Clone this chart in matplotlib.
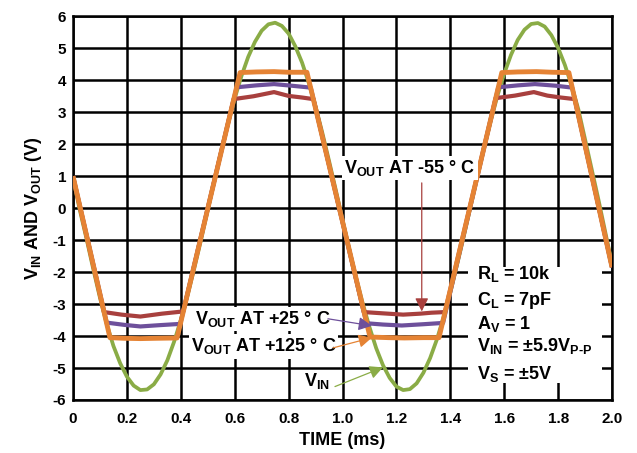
import matplotlib
matplotlib.use("Agg")
import matplotlib.pyplot as plt
import numpy as np
from matplotlib.patches import Rectangle

plt.rcParams['font.family'] = ['Liberation Sans', 'DejaVu Sans']
plt.rcParams['font.weight'] = 'bold'
plt.rcParams['mathtext.fontset'] = 'custom'
plt.rcParams['mathtext.rm'] = 'Liberation Sans:bold'
plt.rcParams['mathtext.bf'] = 'Liberation Sans:bold'
plt.rcParams['mathtext.it'] = 'Liberation Sans:bold'
plt.rcParams['axes.unicode_minus'] = False

# input sine, read every 0.025 ms
VIN_T = np.linspace(0, 2.0, 81)
VIN_V = [0.95, -0.05, -0.95, -1.90, -2.80, -3.62, -4.31, -4.85, -5.27, -5.55,
         -5.69, -5.67, -5.51, -5.20, -4.76, -4.18, -3.50, -2.73, -1.88, -0.99,
         -0.06, 0.87, 1.77, 2.63, 3.43, 4.13, 4.73, 5.20, 5.55, 5.75,
         5.80, 5.70, 5.46, 5.06, 4.55, 3.91, 3.18, 2.36, 1.48, 0.57,
         -0.36, -1.28, -2.16, -2.98, -3.72, -4.38, -4.91, -5.31, -5.58, -5.69,
         -5.66, -5.48, -5.15, -4.69, -4.11, -3.41, -2.63, -1.77, -0.88, 0.05,
         0.98, 1.88, 2.73, 3.52, 4.21, 4.79, 5.26, 5.58, 5.76, 5.79,
         5.68, 5.41, 5.01, 4.48, 3.83, 3.09, 2.15, 1.20, 0.25, -0.75,
         -1.75]

# output at +125 C
T125 = [0, 0.137, 0.19, 0.25, 0.31, 0.386, 0.62, 0.68, 0.746, 0.80, 0.868,
        1.102, 1.17, 1.23, 1.30, 1.358, 1.591, 1.65, 1.72, 1.78, 1.84, 2.0]
V125 = [1.0, -4.05, -4.07, -4.08, -4.07, -4.06, 4.24, 4.26, 4.27, 4.25, 4.25,
        -4.03, -4.05, -4.06, -4.05, -4.05, 4.24, 4.26, 4.27, 4.25, 4.24, -1.85]

# output at +25 C
T25 = [0, 0.125, 0.19, 0.25, 0.32, 0.398, 0.607, 0.68, 0.746, 0.81, 0.882,
       1.089, 1.15, 1.22, 1.30, 1.373, 1.578, 1.65, 1.714, 1.79, 1.852, 2.0]
V25 = [1.0, -3.58, -3.65, -3.70, -3.66, -3.62, 3.78, 3.84, 3.88, 3.83, 3.77,
       -3.60, -3.64, -3.67, -3.63, -3.59, 3.78, 3.84, 3.88, 3.83, 3.77, -1.85]

# output at -55 C
T55 = [0, 0.115, 0.18, 0.25, 0.33, 0.409, 0.596, 0.67, 0.746, 0.80, 0.85, 0.892,
       1.079, 1.15, 1.225, 1.288, 1.33, 1.380, 1.568, 1.64, 1.71, 1.76, 1.81,
       1.862, 2.0]
V55 = [1.0, -3.25, -3.33, -3.39, -3.30, -3.23, 3.41, 3.50, 3.63, 3.51, 3.46, 3.41,
       -3.25, -3.29, -3.33, -3.30, -3.27, -3.25, 3.44, 3.52, 3.63, 3.52, 3.46,
       3.41, -1.85]

XTICKS = [0, 0.2, 0.4, 0.6, 0.8, 1.0, 1.2, 1.4, 1.6, 1.8, 2.0]
XLABELS = ['0', '0.2', '0.4', '0.6', '0.8', '1.0', '1.2', '1.4', '1.6', '1.8', '2.0']
YTICKS = list(range(-6, 7))

GREEN = '#8aac46'
ORANGE = '#e58334'
PURPLE = '#6e509b'
RED = '#a8403e'

fig = plt.figure(figsize=(6.37, 4.53), dpi=100)
ax = fig.add_axes([0.1146, 0.117, 0.8462, 0.847])

ax.plot(VIN_T, VIN_V, color=GREEN, lw=2.7, zorder=4, solid_capstyle='butt')
ax.plot(T55, V55, color=RED, lw=3.0, zorder=4, solid_capstyle='butt')
ax.plot(T25, V25, color=PURPLE, lw=3.0, zorder=4, solid_capstyle='butt')
ax.plot(T125, V125, color=ORANGE, lw=3.5, zorder=4, solid_capstyle='butt')

ax.set_xlim(0, 2.0)
ax.set_ylim(-6, 6)
ax.set_xticks(XTICKS)
ax.set_xticklabels(XLABELS)
ax.set_yticks(YTICKS)
ax.tick_params(length=0, labelsize=11)
ax.tick_params(axis='x', pad=9)
ax.tick_params(axis='y', pad=5)
ax.set_axisbelow(True)
ax.grid(True, color='black', lw=1.8)
for s in ax.spines.values():
    s.set_linewidth(1.8)

ax.set_xlabel('TIME (ms)', fontsize=13, fontweight='bold', labelpad=4)
ax.set_ylabel(r'V$_{\rm IN}$ AND V$_{\rm OUT}$ (V)', fontsize=13,
              fontweight='bold', labelpad=6)

# conditions block
ax.add_patch(Rectangle((0.733, 0.044), 0.248, 0.303, transform=ax.transAxes,
                       facecolor='white', edgecolor='none', zorder=3))
cond = [(r'R$_{\rm L}$ = 10k', -2.22),
        (r'C$_{\rm L}$ = 7pF', -3.02),
        (r'A$_{\rm V}$ = 1', -3.77),
        (r'V$_{\rm IN}$ = ±5.9V$_{\rm P\text{-}P}$', -4.46),
        (r'V$_{\rm S}$ = ±5V', -5.34)]
for s, y in cond:
    ax.text(1.499, y, s, fontsize=13, fontweight='bold', va='baseline',
            ha='left', zorder=5)

box = dict(facecolor='white', edgecolor='none', pad=1.5)
ax.text(1.007, 1.09, r'V$_{\rm OUT}$ AT -55 ° C', fontsize=13,
        fontweight='bold', va='baseline', ha='left', bbox=box, zorder=5)
ax.text(0.453, -3.63, r'V$_{\rm OUT}$ AT +25 ° C', fontsize=13,
        fontweight='bold', va='baseline', ha='left', bbox=box, zorder=5)
ax.text(0.437, -4.48, r'V$_{\rm OUT}$ AT +125 ° C', fontsize=13,
        fontweight='bold', va='baseline', ha='left', bbox=box, zorder=5)
ax.text(0.857, -5.57, r'V$_{\rm IN}$', fontsize=13,
        fontweight='bold', va='baseline', ha='left', zorder=5)

arrows = [((1.294, 0.79), (1.294, -3.23), RED),
          ((0.946, -3.46), (1.109, -3.68), PURPLE),
          ((0.965, -4.37), (1.109, -4.05), ORANGE),
          ((0.972, -5.58), (1.150, -4.98), GREEN)]
for start, tip, c in arrows:
    ax.annotate('', xy=tip, xytext=start,
                arrowprops=dict(arrowstyle='-|>', color=c, lw=0.9,
                                mutation_scale=20, shrinkA=0, shrinkB=0),
                zorder=6)

plt.savefig('out.png', dpi=100)
